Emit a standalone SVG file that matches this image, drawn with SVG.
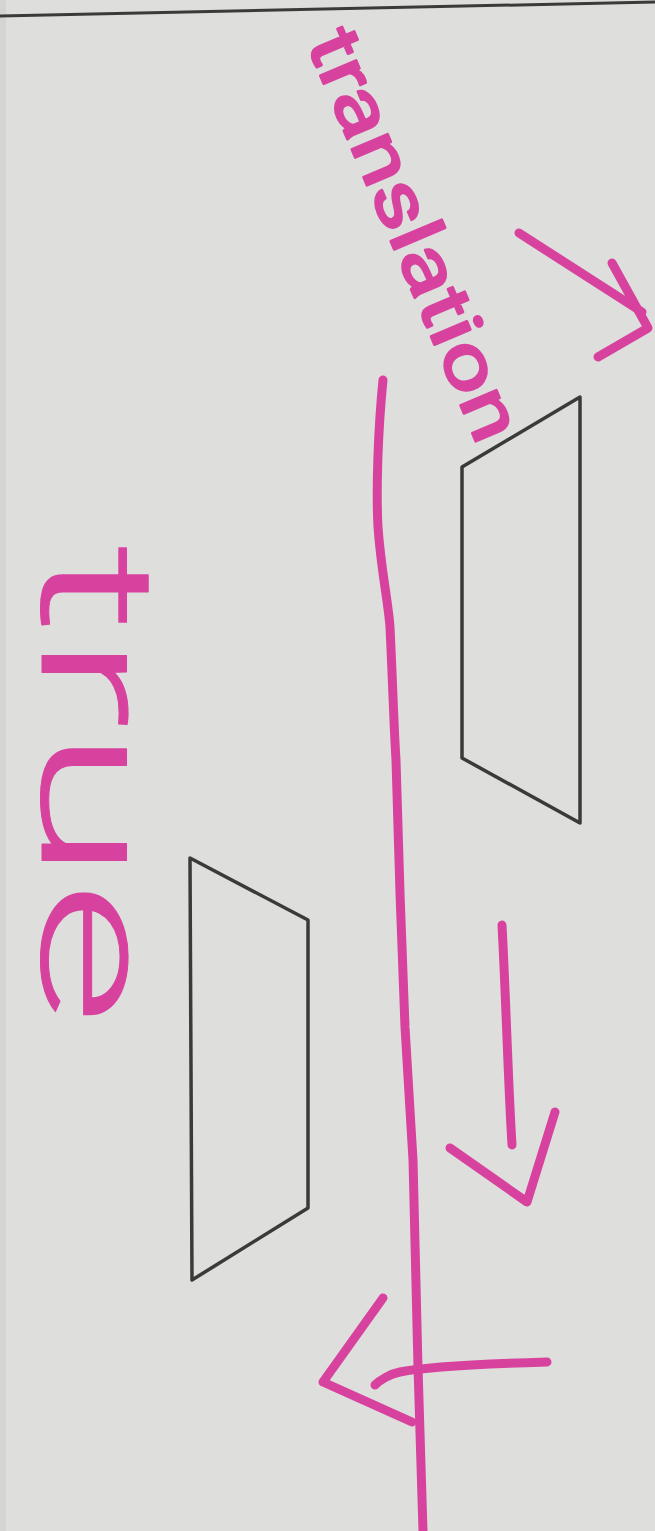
<svg xmlns="http://www.w3.org/2000/svg" width="655" height="1531" viewBox="0 0 655 1531">
<style>
.pink{fill:none;stroke:#d8429f;stroke-width:9;stroke-linecap:round;stroke-linejoin:round}
.shape{fill:none;stroke:#3a3a3a;stroke-width:3.5;stroke-linejoin:round}
.hand{font-family:Roboto,"Liberation Sans","DejaVu Sans",sans-serif;fill:#d8429f;stroke:#d8429f;stroke-linejoin:round}
</style>
<rect x="0" y="0" width="655" height="1531" fill="#dedfdd"/>
<rect x="0" y="0" width="6" height="1531" fill="#d3d5d3"/>
<line x1="0" y1="16" x2="655" y2="2" stroke="#3a3a3a" stroke-width="3"/>
<g id="shape-original">
<polygon class="shape" points="580,397 462,467 462,758 580,823"/>
</g>
<g id="shape-image">
<polygon class="shape" points="190,858 308,920 308,1208 192,1280"/>
</g>
<g id="label-translation">
<text class="hand" transform="translate(306,42) rotate(67)" x="0" y="0" font-size="74" stroke-width="2.5" textLength="440" lengthAdjust="spacingAndGlyphs">translation</text>
</g>
<g id="label-true">
<text class="hand" transform="translate(42,545) rotate(90)" x="0" y="0" font-size="160" font-weight="300" stroke-width="1" textLength="480" lengthAdjust="spacingAndGlyphs">true</text>
</g>
<g id="connectors">
<path class="pink" d="M383,380 C378,430 376,490 378,527 C381,570 388,600 390,627 C393,690 394,730 396,760 C398,820 399,860 400,893 C402,950 404,990 405,1027 C408,1080 411,1120 413,1160 C415,1260 417,1320 418,1367 C420,1440 422,1490 423,1531"/>
<path class="pink" d="M519,233 L642,312"/>
<path class="pink" d="M612,263 L648,328 L598,357"/>
<path class="pink" d="M502,925 C506,1000 508,1080 512,1145"/>
<path class="pink" d="M450,1148 L527,1202 L555,1112"/>
<path class="pink" d="M547,1362 C480,1364 420,1368 400,1372 C390,1374 380,1380 375,1385"/>
<path class="pink" d="M383,1298 L323,1382 L412,1422"/>
</g>
</svg>
